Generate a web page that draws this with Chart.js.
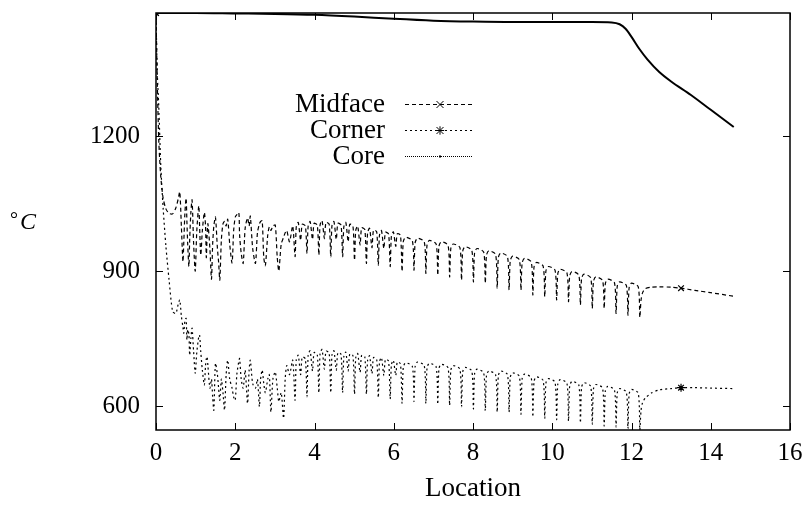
<!DOCTYPE html>
<html>
<head>
<meta charset="utf-8">
<script src="https://cdn.jsdelivr.net/npm/chart.js@4.4.0/dist/chart.umd.min.js"></script>
<style>
  html, body { margin: 0; padding: 0; background: #fff; }
</style>
</head>
<body>
<canvas id="myChart" width="808" height="505"></canvas>
<script>
// tick labels
const xTicks = [0, 2, 4, 6, 8, 10, 12, 14, 16];
const yTicks = [600, 900, 1200];

// shared x positions for Midface and Corner
const location_ = [
  0, 0.03, 0.07, 0.12, 0.18, 0.25, 0.33, 0.42, 0.5, 0.56,
  0.6, 0.64, 0.68, 0.7, 0.73, 0.76, 0.78, 0.8, 0.83, 0.85,
  0.88, 0.91, 0.95, 0.99, 1.03, 1.08, 1.1, 1.13, 1.17, 1.22,
  1.25, 1.27, 1.29, 1.31, 1.36, 1.4, 1.43, 1.46, 1.5, 1.55,
  1.58, 1.61, 1.65, 1.69, 1.73, 1.77, 1.81, 1.86, 1.92, 1.96,
  2.0, 2.04, 2.09, 2.11, 2.15, 2.2, 2.25, 2.31, 2.35, 2.38,
  2.44, 2.51, 2.56, 2.61, 2.64, 2.68, 2.72, 2.76, 2.82, 2.86,
  2.9, 2.95, 3.01, 3.06, 3.1, 3.16, 3.22, 3.26, 3.3, 3.37,
  3.45,
  3.51, 3.54, 3.59, 3.65, 3.69, 3.77,
  3.81, 3.84, 3.89, 3.95, 3.99, 4.07,
  4.11, 4.14, 4.19, 4.25, 4.29, 4.37,
  4.41, 4.44, 4.49, 4.55, 4.59, 4.67,
  4.71, 4.74, 4.79, 4.85, 4.89, 4.97,
  5.01, 5.04, 5.09, 5.15, 5.19, 5.27,
  5.31, 5.34, 5.39, 5.45, 5.49, 5.57,
  5.61, 5.64, 5.69, 5.75, 5.79, 5.87,
  5.91, 5.94, 5.99, 6.05, 6.09, 6.17,
  6.21, 6.24, 6.30, 6.47,
  6.51, 6.54, 6.60, 6.77,
  6.81, 6.84, 6.90, 7.07,
  7.11, 7.14, 7.20, 7.37,
  7.41, 7.44, 7.50, 7.67,
  7.71, 7.74, 7.80, 7.97,
  8.01, 8.04, 8.10, 8.27,
  8.31, 8.34, 8.40, 8.57,
  8.61, 8.64, 8.70, 8.87,
  8.91, 8.94, 9.00, 9.17,
  9.21, 9.24, 9.30, 9.47,
  9.51, 9.54, 9.60, 9.77,
  9.81, 9.84, 9.90, 10.07,
  10.11, 10.14, 10.20, 10.37,
  10.41, 10.44, 10.50, 10.67,
  10.71, 10.74, 10.80, 10.97,
  11.01, 11.04, 11.10, 11.27,
  11.31, 11.34, 11.40, 11.57,
  11.61, 11.64, 11.70, 11.87,
  11.91, 11.94, 12.00, 12.17,
  12.21, 12.24, 12.28, 12.35, 12.5, 12.7, 13.0, 13.25, 13.6, 14.0, 14.58
];

const midface = [
  1473, 1330, 1190, 1110, 1062, 1038, 1028, 1027, 1040, 1060,
  1076, 1000, 921, 960, 1030, 1062, 1010, 960, 910, 970,
  1030, 1058, 960, 900, 990, 1045, 1000, 935, 990, 1030,
  1000, 930, 980, 1005, 950, 882, 960, 1000, 1020, 950,
  920, 880, 970, 1005, 1010, 1000, 1015, 960, 918, 990,
  1020, 1025, 1030, 980, 940, 917, 995, 1018, 1000, 1022,
  950, 917, 985, 1005, 1010, 1012, 930, 912, 980, 998,
  990, 1000, 1002, 930, 900, 960, 975, 985, 990, 965,
  1000,
  932, 998, 1008, 968, 1004, 1000,
  939, 1000, 1010, 970, 1006, 1002,
  936, 1002, 1012, 972, 1008, 1004,
  932, 1000, 1010, 970, 1006, 1002,
  932, 998, 1008, 965, 1004, 1000,
  924, 990, 1000, 958, 996, 992,
  917, 985, 995, 952, 991, 987,
  913, 980, 990, 950, 986, 982,
  910, 977, 987, 955, 983, 979,
  899, 965, 975, 967,
  902, 963, 973, 965,
  895, 958, 968, 960,
  891, 955, 965, 957,
  887, 950, 960, 952,
  880, 944, 954, 946,
  876, 940, 950, 942,
  873, 935, 945, 937,
  862, 930, 940, 932,
  858, 923, 933, 925,
  858, 918, 928, 920,
  847, 909, 919, 911,
  843, 900, 910, 902,
  836, 894, 904, 896,
  832, 889, 899, 891,
  825, 883, 893, 885,
  817, 877, 887, 879,
  817, 872, 882, 874,
  806, 866, 876, 868,
  802, 863, 873, 865,
  797, 835, 852, 861, 864, 865, 864, 862, 857, 852, 844
];

const corner = [
  1473, 1345, 1265, 1135, 1040, 955, 880, 810, 806, 826,
  836, 800, 775, 762, 790, 795, 747, 770, 760, 713,
  750, 773, 720, 673, 720, 755, 758, 720, 680, 647,
  690, 705, 710, 690, 640, 660, 620, 591, 695, 670,
  640, 613, 660, 630, 591, 670, 702, 660, 640, 620,
  613, 670, 700, 706, 660, 640, 680, 606, 680, 702,
  650, 640, 660, 599, 660, 680, 650, 630, 660, 670,
  587, 660, 676, 640, 610, 630, 573, 660, 690, 670,
  702,
  613, 703, 713, 670, 709, 705,
  621, 713, 723, 678, 719, 715,
  630, 716, 726, 682, 722, 718,
  630, 713, 723, 680, 719, 715,
  630, 710, 720, 678, 716, 712,
  627, 707, 717, 675, 713, 709,
  627, 702, 712, 672, 708, 704,
  619, 698, 708, 668, 704, 700,
  616, 692, 702, 668, 698, 694,
  606, 686, 696, 688,
  610, 688, 698, 690,
  606, 685, 695, 687,
  604, 683, 693, 685,
  602, 680, 690, 682,
  599, 676, 686, 678,
  594, 672, 682, 674,
  590, 668, 678, 670,
  587, 668, 678, 670,
  587, 664, 674, 666,
  582, 661, 671, 663,
  576, 655, 665, 657,
  573, 651, 661, 653,
  570, 649, 659, 651,
  567, 645, 655, 647,
  563, 642, 652, 644,
  560, 638, 648, 640,
  556, 634, 644, 636,
  554, 629, 639, 631,
  550, 627, 637, 629,
  547, 590, 608, 618, 629, 636, 639, 641, 641, 640, 639
];

const coreLoc = [0, 1, 2, 3, 4, 5, 6, 7, 8, 9, 10, 11, 11.5, 11.7, 11.85, 12.0, 12.2, 12.4, 12.7, 13.0, 13.5, 14.0, 14.58];
const core = [1473, 1473, 1472, 1471, 1469, 1465, 1460, 1456, 1454, 1453, 1453, 1453, 1452, 1448, 1438, 1420, 1393, 1370, 1342, 1321, 1291, 1258, 1220];

// where gnuplot put the point symbols
const markerLoc = [0, 13.25];

const serif = "'Liberation Serif', 'Times New Roman', serif";

function toPoints(xs, ys) {
  return xs.map((x, i) => ({ x: x, y: ys[i] }));
}
function radii(xs) {
  return xs.map(x => markerLoc.includes(x) ? 4 : 0);
}

function drawMark(ctx, style, x, y, r) {
  ctx.beginPath();
  ctx.moveTo(x - r, y - r); ctx.lineTo(x + r, y + r);
  ctx.moveTo(x - r, y + r); ctx.lineTo(x + r, y - r);
  if (style === 'star') {
    ctx.moveTo(x - r * 1.2, y); ctx.lineTo(x + r * 1.2, y);
    ctx.moveTo(x, y - r * 1.2); ctx.lineTo(x, y + r * 1.2);
  }
  ctx.stroke();
}

const legendRows = [
  { label: 'Midface', dash: [4, 3], width: 1.2, mark: 'crossRot' },
  { label: 'Corner', dash: [2, 3], width: 1.2, mark: 'star' },
  { label: 'Core', dash: [1, 1], width: 1, mark: 'dot' }
];

const frame = {
  id: 'frame',
  afterDraw(chart) {
    const ctx = chart.ctx;
    const a = chart.chartArea;
    const sx = chart.scales.x, sy = chart.scales.y;
    ctx.save();
    ctx.strokeStyle = '#000';
    ctx.fillStyle = '#000';
    ctx.lineWidth = 1.5;
    ctx.strokeRect(a.left, a.top, a.right - a.left, a.bottom - a.top);

    // inward ticks on all four sides
    ctx.lineWidth = 1;
    ctx.beginPath();
    xTicks.forEach(v => {
      const px = Math.round(sx.getPixelForValue(v)) + 0.5;
      ctx.moveTo(px, a.bottom); ctx.lineTo(px, a.bottom - 7);
      ctx.moveTo(px, a.top); ctx.lineTo(px, a.top + 7);
    });
    yTicks.forEach(v => {
      const py = Math.round(sy.getPixelForValue(v)) + 0.5;
      ctx.moveTo(a.left, py); ctx.lineTo(a.left + 7, py);
      ctx.moveTo(a.right, py); ctx.lineTo(a.right - 7, py);
    });
    ctx.stroke();

    // unit label, kept horizontal
    ctx.textBaseline = 'alphabetic';
    ctx.textAlign = 'left';
    ctx.font = '20px ' + serif;
    ctx.fillText('\u00b0', 10, 226);
    ctx.font = 'italic 24px ' + serif;
    ctx.fillText('C', 20, 229);

    // legend: text right aligned, sample to the right
    ctx.font = '27px ' + serif;
    ctx.textAlign = 'right';
    ctx.textBaseline = 'middle';
    legendRows.forEach((row, i) => {
      const y = 104 + i * 26;
      ctx.fillText(row.label, 385, y + 1);
      ctx.lineWidth = row.width;
      ctx.setLineDash(row.dash);
      ctx.beginPath();
      ctx.moveTo(405, y + 0.5); ctx.lineTo(473, y + 0.5);
      ctx.stroke();
      ctx.setLineDash([]);
      ctx.lineWidth = 1;
      if (row.mark === 'dot') {
        ctx.fillRect(439, y - 0.5, 2, 2);
      } else {
        drawMark(ctx, row.mark, 440, y + 0.5, 3.5);
      }
    });
    ctx.restore();
  }
};

const ctx = document.getElementById('myChart').getContext('2d');
const myChart = new Chart(ctx, {
  type: 'line',
  data: {
    datasets: [
      {
        label: 'Midface',
        data: toPoints(location_, midface),
        borderColor: '#000',
        borderWidth: 1.2,
        borderDash: [4, 3],
        tension: 0.25,
        pointStyle: 'crossRot',
        pointRadius: radii(location_),
        pointBorderColor: '#000',
        pointBorderWidth: 1.2
      },
      {
        label: 'Corner',
        data: toPoints(location_, corner),
        borderColor: '#000',
        borderWidth: 1.2,
        borderDash: [2, 3],
        tension: 0.25,
        pointStyle: 'star',
        pointRadius: radii(location_),
        pointBorderColor: '#000',
        pointBorderWidth: 1.2
      },
      {
        label: 'Core',
        data: toPoints(coreLoc, core),
        borderColor: '#000',
        borderWidth: 2,
        cubicInterpolationMode: 'monotone',
        pointRadius: 0
      }
    ]
  },
  options: {
    responsive: false,
    animation: false,
    devicePixelRatio: 1,
    layout: { padding: { left: 0, right: 18, top: 13, bottom: 0 } },
    plugins: {
      legend: { display: false },
      tooltip: { enabled: false }
    },
    scales: {
      x: {
        type: 'linear',
        min: 0,
        max: 16,
        afterBuildTicks: s => { s.ticks = xTicks.map(v => ({ value: v })); },
        afterFit: s => { s.height = 75; s.paddingLeft = 0; s.paddingRight = 0; },
        grid: { display: false, drawTicks: false },
        border: { display: false },
        ticks: {
          font: { family: serif, size: 25 },
          color: '#000',
          padding: 8,
          maxRotation: 0,
          callback: v => String(v)
        },
        title: {
          display: true,
          text: 'Location',
          font: { family: serif, size: 27 },
          color: '#000',
          padding: 0
        }
      },
      y: {
        type: 'linear',
        min: 547,
        max: 1473,
        afterBuildTicks: s => { s.ticks = yTicks.map(v => ({ value: v })); },
        afterFit: s => { s.width = 156; s.paddingTop = 0; s.paddingBottom = 0; },
        grid: { display: false, drawTicks: false },
        border: { display: false },
        ticks: {
          font: { family: serif, size: 25 },
          color: '#000',
          padding: 16,
          callback: v => String(v)
        }
      }
    }
  },
  plugins: [frame]
});
</script>
</body>
</html>
